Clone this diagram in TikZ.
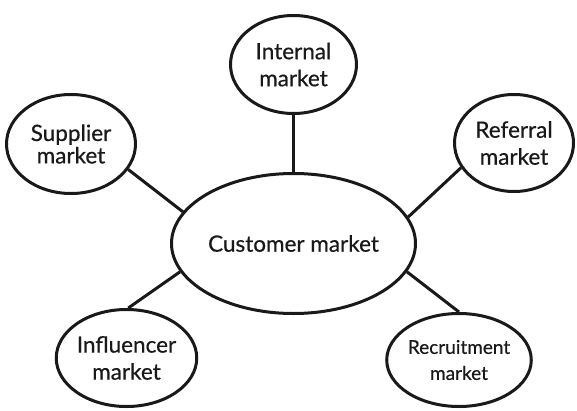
\documentclass[tikz,border=0pt]{standalone}
\usepackage{fontspec}
\setmainfont{Lato}[FakeBold=0.5,AutoFakeBold=0.5]
\usetikzlibrary{shapes.geometric}
\begin{document}
\begin{tikzpicture}[x=1pt,y=1pt,
  market/.style={draw=black!90, line width=3pt, ellipse, inner sep=0pt, align=center,
    font=\fontsize{22.5}{27}\selectfont\bfseries, text=black!90},
  link/.style={draw=black!90, line width=3pt}]
\useasboundingbox (0,0) rectangle (577,410);
\node[market, minimum width=244pt, minimum height=140pt, font=\fontsize{22.5}{27}\selectfont\bfseries] (cust) at (293.5,166.5) {Customer market};
\node[market, minimum width=126pt, minimum height=98pt] (int) at (293.5,345.5) {Internal\\market};
\node[market, minimum width=129pt, minimum height=99pt] (sup) at (71,266) {\raisebox{-4pt}{\shortstack{Supplier\\[-1pt]market}}};
\node[market, minimum width=119pt, minimum height=97pt] (ref) at (514,267) {Referral\\market};
\node[market, minimum width=124pt, minimum height=97pt] (inf) at (126.5,52) {Influencer\\market};
\node[market, minimum width=125pt, minimum height=93pt, font=\fontsize{19}{26}\selectfont\bfseries] (rec) at (459,50) {Recruitment\\market};
\draw[link] (int.270) -- (cust.90);
\draw[link] (sup.-24.5) -- (cust.164);
\draw[link] (ref.205.7) -- (cust.13.1);
\draw[link] (inf.88) -- (cust.194.3);
\draw[link] (rec.90) -- (cust.-14.8);
\end{tikzpicture}
\end{document}
